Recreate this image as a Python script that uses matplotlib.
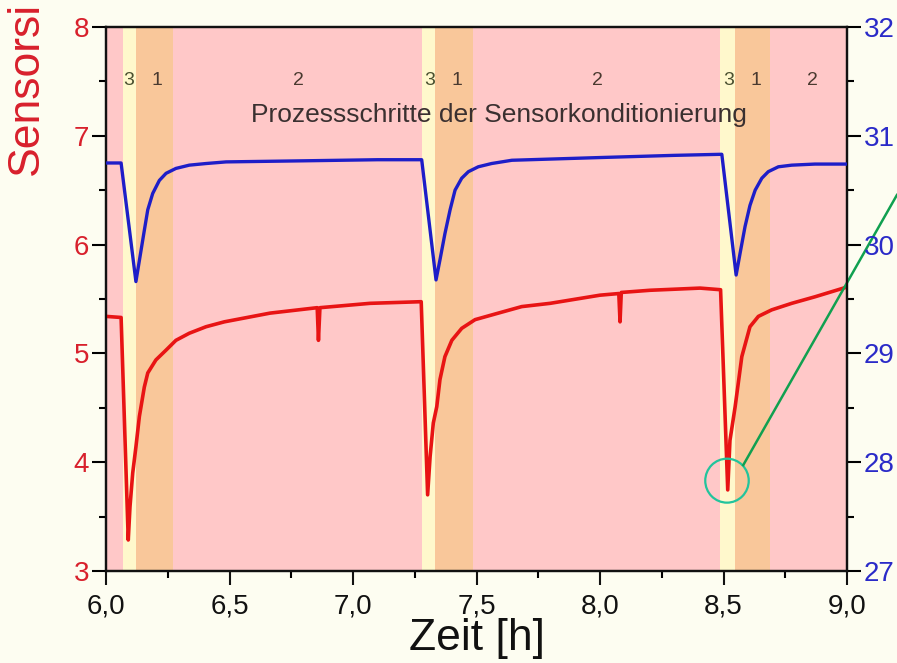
import matplotlib
matplotlib.use("Agg")
import matplotlib.pyplot as plt
from matplotlib.patches import Ellipse
from matplotlib.ticker import MultipleLocator, FuncFormatter

plt.rcParams['font.family'] = ['Liberation Sans', 'DejaVu Sans']

# Red trace (left axis)
red_t = [6.000, 6.061, 6.090, 6.097, 6.108, 6.121, 6.135, 6.155, 6.169, 6.202,
         6.243, 6.283, 6.337, 6.405, 6.479, 6.664, 6.855, 6.860, 6.866, 7.069,
         7.276, 7.302, 7.312, 7.325, 7.339, 7.352, 7.372, 7.400, 7.440, 7.494,
         7.588, 7.683, 7.798, 8.000, 8.076, 8.081, 8.086, 8.202, 8.405, 8.488,
         8.517, 8.526, 8.547, 8.574, 8.607, 8.641, 8.695, 8.776, 8.870, 9.000]
red_v = [5.34, 5.33, 3.285, 3.59, 3.90, 4.14, 4.42, 4.69, 4.82, 4.94,
         5.03, 5.12, 5.185, 5.245, 5.29, 5.37, 5.42, 5.12, 5.42, 5.46,
         5.475, 3.70, 4.05, 4.36, 4.51, 4.76, 4.97, 5.12, 5.23, 5.31,
         5.37, 5.43, 5.46, 5.535, 5.55, 5.29, 5.56, 5.58, 5.60, 5.585,
         3.745, 4.20, 4.51, 4.97, 5.245, 5.34, 5.40, 5.46, 5.52, 5.61]

# Blue trace (right axis)
blue_t = [6.000, 6.061, 6.121, 6.142, 6.155, 6.169, 6.189, 6.216, 6.243, 6.283,
          6.337, 6.405, 6.486, 6.800, 7.100, 7.278, 7.336, 7.352, 7.372, 7.393,
          7.413, 7.440, 7.467, 7.507, 7.561, 7.643, 8.000, 8.300, 8.493, 8.551,
          8.567, 8.587, 8.607, 8.628, 8.655, 8.681, 8.722, 8.776, 8.870, 9.000]
blue_v = [30.75, 30.75, 29.66, 29.95, 30.13, 30.32, 30.47, 30.59, 30.655, 30.70,
          30.73, 30.745, 30.76, 30.77, 30.78, 30.78, 29.675, 29.86, 30.10, 30.32,
          30.50, 30.61, 30.67, 30.715, 30.745, 30.775, 30.80, 30.82, 30.83, 29.72,
          29.92, 30.165, 30.36, 30.50, 30.61, 30.67, 30.715, 30.73, 30.74, 30.74]

# Process step intervals: (start, end, step)
step_spans = [(6.000, 6.069, 2), (6.069, 6.121, 3), (6.121, 6.271, 1),
              (6.271, 7.279, 2), (7.279, 7.332, 3), (7.332, 7.486, 1),
              (7.486, 8.486, 2), (8.486, 8.547, 3), (8.547, 8.688, 1),
              (8.688, 9.000, 2)]
step_colors = {1: '#f9c79a', 2: '#ffc8c8', 3: '#fff8cc'}

# Step numbers written above the traces
step_label_x = [6.093, 6.206, 6.777, 7.312, 7.421, 7.988, 8.522, 8.632, 8.858]
step_label_txt = ['3', '1', '2', '3', '1', '2', '3', '1', '2']

fig = plt.figure(figsize=(8.97, 6.63), dpi=100, facecolor='#fdfdf1')
ax = fig.add_axes([0.1182, 0.1388, 0.8261, 0.8205])
ax.set_facecolor('#ffc8c8')

for a, b, s in step_spans:
    ax.axvspan(a, b, color=step_colors[s], lw=0, zorder=0)

ax.plot(red_t, red_v, color='#e81414', lw=2.6, zorder=3, solid_joinstyle='round')
ax.set_xlim(6.0, 9.0)
ax.set_ylim(3, 8)

ax2 = ax.twinx()
ax2.plot(blue_t, blue_v, color='#1e1ec8', lw=2.4, zorder=3, solid_joinstyle='round')
ax2.set_ylim(27, 32)

for x, t in zip(step_label_x, step_label_txt):
    ax.text(x, 7.51, t, ha='center', va='center', fontsize=14,
            color='#4a5030' if t == '3' else '#4a3a30', zorder=4)
ax.text(7.591, 7.19, 'Prozessschritte der Sensorkonditionierung', ha='center',
        va='center', fontsize=19, color='#3a3030', zorder=4)

comma = FuncFormatter(lambda v, p: f'{v:.1f}'.replace('.', ','))
ax.xaxis.set_major_locator(MultipleLocator(0.5))
ax.xaxis.set_minor_locator(MultipleLocator(0.25))
ax.xaxis.set_major_formatter(comma)
ax.yaxis.set_major_locator(MultipleLocator(1))
ax.yaxis.set_minor_locator(MultipleLocator(0.5))
ax2.yaxis.set_major_locator(MultipleLocator(1))
ax2.yaxis.set_minor_locator(MultipleLocator(0.5))

for a in (ax, ax2):
    for sp in a.spines.values():
        sp.set_linewidth(1.6)
        sp.set_color('#111111')

ax.tick_params(axis='x', which='major', length=10, width=1.5, labelsize=20,
               pad=6, colors='#111111')
ax.tick_params(axis='x', which='minor', length=5, width=1.5)
ax.tick_params(axis='y', which='major', length=10, width=1.5, labelsize=20,
               pad=2, labelcolor='#d8202c')
ax.tick_params(axis='y', which='minor', length=5, width=1.5)
ax2.tick_params(axis='y', which='major', length=10, width=1.5, labelsize=20,
                pad=2, labelcolor='#2a2ac8')
ax2.tick_params(axis='y', which='minor', length=5, width=1.5)

ax.set_xlabel('Zeit [h]', fontsize=32, labelpad=-1, color='#111111')
fig.text(0.029, 0.736, 'Sensorsi', rotation=90, ha='center', va='bottom',
         fontsize=32, color='#d8202c')

# Highlight of the third minimum with a pointer line
ax.add_patch(Ellipse((8.514, 3.83), 0.176, 0.404, fill=False,
                     edgecolor='#22c49c', lw=1.6, zorder=5))
ax.plot([8.580, 9.202], [3.974, 6.456], color='#10a050', lw=1.8,
        clip_on=False, zorder=5)

fig.savefig('out.png', dpi=100, facecolor=fig.get_facecolor())
